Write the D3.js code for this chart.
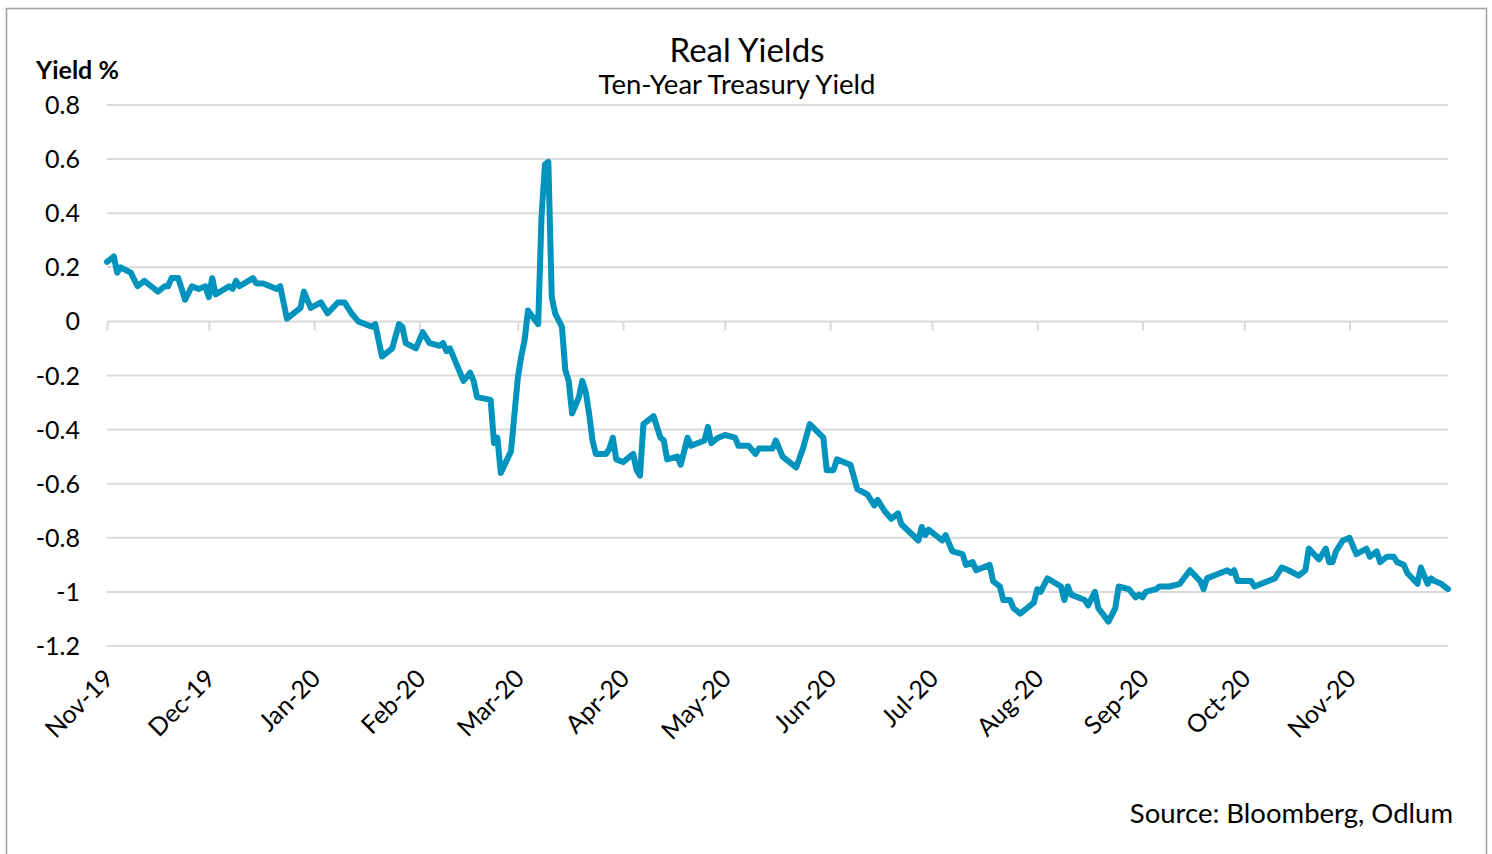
<!DOCTYPE html>
<html>
<head>
<meta charset="utf-8">
<script src="https://cdn.jsdelivr.net/npm/d3@7"></script>
<style>
  body { margin: 0; background: #fff; }
  svg { display: block; font-family: Lato, "Open Sans", sans-serif; }
</style>
</head>
<body>
<div id="chart"></div>
<script>
// Real yields, 10y treasury
const dates = [
  "2019-11-01","2019-11-03","2019-11-04","2019-11-05","2019-11-08","2019-11-10","2019-11-12","2019-11-14","2019-11-16","2019-11-18",
  "2019-11-19","2019-11-20","2019-11-22","2019-11-24","2019-11-26","2019-11-28","2019-11-30","2019-12-01","2019-12-02","2019-12-03",
  "2019-12-07","2019-12-08","2019-12-09","2019-12-10","2019-12-14","2019-12-15","2019-12-17","2019-12-21","2019-12-22","2019-12-24",
  "2019-12-28","2019-12-29","2019-12-31","2020-01-03","2020-01-05","2020-01-08","2020-01-10","2020-01-12","2020-01-14","2020-01-18",
  "2020-01-19","2020-01-20","2020-01-21","2020-01-24","2020-01-26","2020-01-27","2020-01-28","2020-01-31","2020-02-02","2020-02-04",
  "2020-02-07","2020-02-08","2020-02-09","2020-02-10","2020-02-12","2020-02-14","2020-02-16","2020-02-17","2020-02-18","2020-02-22",
  "2020-02-23","2020-02-24","2020-02-25","2020-02-28","2020-03-01","2020-03-02","2020-03-03","2020-03-04","2020-03-07","2020-03-08",
  "2020-03-09","2020-03-10","2020-03-11","2020-03-12","2020-03-14","2020-03-15","2020-03-16","2020-03-17","2020-03-19","2020-03-20",
  "2020-03-21","2020-03-22","2020-03-23","2020-03-24","2020-03-27","2020-03-28","2020-03-29","2020-03-30","2020-04-01","2020-04-04",
  "2020-04-05","2020-04-06","2020-04-07","2020-04-10","2020-04-12","2020-04-13","2020-04-14","2020-04-17","2020-04-18","2020-04-20",
  "2020-04-21","2020-04-25","2020-04-26","2020-04-27","2020-04-29","2020-05-01","2020-05-04","2020-05-05","2020-05-08","2020-05-10",
  "2020-05-11","2020-05-15","2020-05-16","2020-05-18","2020-05-19","2020-05-22","2020-05-24","2020-05-26","2020-05-30","2020-05-31",
  "2020-06-02","2020-06-03","2020-06-07","2020-06-09","2020-06-12","2020-06-14","2020-06-15","2020-06-17","2020-06-19","2020-06-21",
  "2020-06-22","2020-06-27","2020-06-28","2020-06-29","2020-06-30","2020-07-04","2020-07-05","2020-07-07","2020-07-10","2020-07-11",
  "2020-07-13","2020-07-14","2020-07-18","2020-07-19","2020-07-21","2020-07-22","2020-07-24","2020-07-25","2020-07-27","2020-07-29",
  "2020-07-31","2020-08-01","2020-08-02","2020-08-04","2020-08-08","2020-08-09","2020-08-10","2020-08-11","2020-08-15","2020-08-16",
  "2020-08-18","2020-08-19","2020-08-22","2020-08-24","2020-08-25","2020-08-28","2020-08-30","2020-08-31","2020-09-01","2020-09-02",
  "2020-09-05","2020-09-06","2020-09-09","2020-09-12","2020-09-15","2020-09-18","2020-09-19","2020-09-20","2020-09-26","2020-09-27",
  "2020-09-28","2020-09-29","2020-10-03","2020-10-04","2020-10-06","2020-10-10","2020-10-12","2020-10-14","2020-10-17","2020-10-19",
  "2020-10-20","2020-10-23","2020-10-25","2020-10-26","2020-10-27","2020-10-28","2020-10-30","2020-11-01","2020-11-03","2020-11-06",
  "2020-11-07","2020-11-09","2020-11-10","2020-11-12","2020-11-14","2020-11-15","2020-11-17","2020-11-18","2020-11-21","2020-11-22",
  "2020-11-24","2020-11-25","2020-11-26","2020-11-28","2020-11-30"
];
const yields = [
  0.22, 0.24, 0.18, 0.20, 0.18, 0.13, 0.15, 0.13, 0.11, 0.13,
  0.13, 0.16, 0.16, 0.08, 0.13, 0.12, 0.13, 0.09, 0.16, 0.10,
  0.13, 0.12, 0.15, 0.13, 0.16, 0.14, 0.14, 0.12, 0.13, 0.01,
  0.05, 0.11, 0.05, 0.07, 0.03, 0.07, 0.07, 0.03, 0.00, -0.02,
  -0.01, -0.07, -0.13, -0.10, -0.01, -0.02, -0.08, -0.10, -0.04, -0.08,
  -0.09, -0.08, -0.11, -0.10, -0.16, -0.22, -0.19, -0.22, -0.28, -0.29,
  -0.45, -0.43, -0.56, -0.48, -0.21, -0.13, -0.07, 0.04, -0.01, 0.39,
  0.58, 0.59, 0.09, 0.03, -0.02, -0.18, -0.22, -0.34, -0.28, -0.22,
  -0.26, -0.34, -0.44, -0.49, -0.49, -0.47, -0.43, -0.51, -0.52, -0.49,
  -0.55, -0.57, -0.38, -0.35, -0.43, -0.44, -0.51, -0.50, -0.53, -0.43,
  -0.46, -0.44, -0.39, -0.45, -0.43, -0.42, -0.43, -0.46, -0.46, -0.49,
  -0.47, -0.47, -0.44, -0.50, -0.51, -0.54, -0.47, -0.38, -0.43, -0.55,
  -0.55, -0.51, -0.53, -0.62, -0.64, -0.68, -0.66, -0.70, -0.73, -0.71,
  -0.75, -0.81, -0.76, -0.79, -0.77, -0.81, -0.79, -0.85, -0.86, -0.90,
  -0.89, -0.92, -0.90, -0.96, -0.98, -1.03, -1.03, -1.06, -1.08, -1.06,
  -1.04, -0.99, -1.00, -0.95, -0.98, -1.03, -0.98, -1.01, -1.03, -1.05,
  -1.00, -1.06, -1.11, -1.06, -0.98, -0.99, -1.02, -1.01, -1.02, -1.00,
  -0.99, -0.98, -0.98, -0.97, -0.92, -0.96, -0.99, -0.95, -0.92, -0.93,
  -0.92, -0.96, -0.96, -0.98, -0.97, -0.95, -0.91, -0.92, -0.94, -0.92,
  -0.84, -0.88, -0.84, -0.89, -0.89, -0.85, -0.81, -0.80, -0.86, -0.84,
  -0.87, -0.85, -0.89, -0.87, -0.87, -0.89, -0.90, -0.93, -0.97, -0.91,
  -0.97, -0.95, -0.96, -0.97, -0.99
];
const yTicks = [0.8, 0.6, 0.4, 0.2, 0, -0.2, -0.4, -0.6, -0.8, -1, -1.2];
const monthTicks = ["2019-11-01","2019-12-01","2020-01-01","2020-02-01","2020-03-01","2020-04-01",
  "2020-05-01","2020-06-01","2020-07-01","2020-08-01","2020-09-01","2020-10-01","2020-11-01"];

const width = 1492;
const height = 854;

const parse = d3.timeParse("%Y-%m-%d");
const data = dates.map((d, i) => ({date: parse(d), value: yields[i]}));

const x = d3.scaleTime()
    .domain([parse("2019-11-01"), parse("2020-11-30")])
    .range([107, 1448]);
const y = d3.scaleLinear()
    .domain([-1.2, 0.8])
    .range([646, 105]);

const svg = d3.select("#chart").append("svg")
    .attr("width", width)
    .attr("height", height)
    .attr("viewBox", [0, 0, width, height]);

// outer frame
svg.append("rect")
    .attr("x", 6.5).attr("y", 8.5)
    .attr("width", 1480).attr("height", 860)
    .attr("fill", "none")
    .attr("stroke", "#a0a0a0")
    .attr("stroke-width", 1.5);

// gridlines
svg.append("g")
    .selectAll("line")
    .data(yTicks)
    .join("line")
    .attr("x1", x.range()[0]).attr("x2", x.range()[1])
    .attr("y1", d => y(d)).attr("y2", d => y(d))
    .attr("stroke", "#d9d9d9")
    .attr("stroke-width", 2);

// y labels (plain hyphen for negatives, like the original)
svg.append("g")
    .selectAll("text")
    .data(yTicks)
    .join("text")
    .attr("x", 80)
    .attr("y", d => y(d))
    .attr("dy", "0.36em")
    .attr("text-anchor", "end")
    .attr("font-size", 25)
    .attr("fill", "#000")
    .text(d => String(d));

// x axis on the zero line
const xAxis = d3.axisBottom(x)
    .tickValues(monthTicks.map(parse))
    .tickSize(9)
    .tickFormat(d3.timeFormat("%b-%y"));

const gx = svg.append("g")
    .attr("transform", `translate(0,${y(0)})`)
    .call(xAxis);
gx.select(".domain").remove();
gx.selectAll(".tick line").attr("stroke", "#d9d9d9").attr("stroke-width", 2);
gx.selectAll(".tick text").remove();

// month labels down below, rotated
svg.append("g")
    .selectAll("text")
    .data(monthTicks.map(parse))
    .join("text")
    .attr("transform", d => `translate(${x(d) + 8},${680}) rotate(-45)`)
    .attr("text-anchor", "end")
    .attr("font-size", 25)
    .attr("fill", "#000")
    .text(d3.timeFormat("%b-%y"));

// line
const line = d3.line()
    .x(d => x(d.date))
    .y(d => y(d.value));

svg.append("path")
    .datum(data)
    .attr("d", line)
    .attr("fill", "none")
    .attr("stroke", "#0093be")
    .attr("stroke-width", 6)
    .attr("stroke-linejoin", "round")
    .attr("stroke-linecap", "round");

// titles
svg.append("text")
    .attr("x", 747).attr("y", 62)
    .attr("text-anchor", "middle")
    .attr("font-size", 33)
    .text("Real Yields");

svg.append("text")
    .attr("x", 737).attr("y", 94)
    .attr("text-anchor", "middle")
    .attr("font-size", 27.5)
    .text("Ten-Year Treasury Yield");

svg.append("text")
    .attr("x", 36).attr("y", 79)
    .attr("font-size", 25)
    .attr("font-weight", "bold")
    .text("Yield %");

svg.append("text")
    .attr("x", 1453).attr("y", 823)
    .attr("text-anchor", "end")
    .attr("font-size", 27.5)
    .text("Source: Bloomberg, Odlum");
</script>
</body>
</html>
